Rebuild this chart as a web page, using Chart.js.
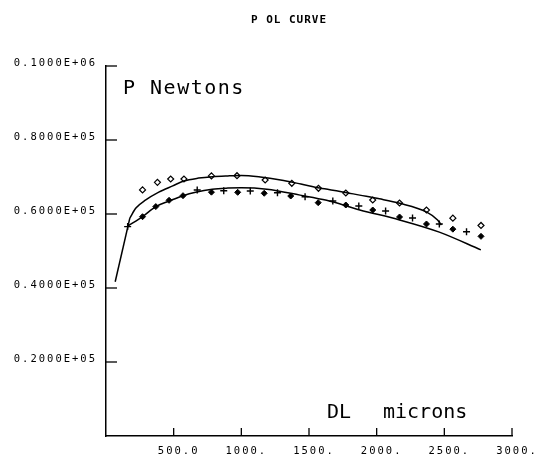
<!DOCTYPE html>
<html>
<head>
<meta charset="utf-8">
<script src="https://cdn.jsdelivr.net/npm/chart.js@4.4.1/dist/chart.umd.min.js"></script>
<style>
html,body{margin:0;padding:0;background:#fff;}
#wrap{width:551px;height:460px;}
</style>
</head>
<body>
<div id="wrap"><canvas id="plChart"></canvas></div>
<script>
// axis ticks
const xTicks = [500, 1000, 1500, 2000, 2500, 3000];
const yTicks = [20000, 40000, 60000, 80000, 100000];

// straight start, upper curve continues from its top
const stemX = [68, 176];
const stemY = [41700, 58900];

// upper fitted curve
const upperX = [176, 221, 294, 390, 493, 574, 684, 787, 900, 1000, 1140, 1290, 1440, 1580, 1730, 1875, 2020, 2170, 2370, 2450, 2478];
const upperY = [58900, 61600, 63800, 65900, 67600, 68900, 69700, 70100, 70300, 70400, 70000, 69200, 68100, 67000, 66100, 65100, 64100, 62900, 60500, 58400, 57000];

// lower fitted curve, branches off the stem
const lowerX = [162, 270, 368, 466, 569, 662, 785, 900, 1000, 1189, 1434, 1630, 1875, 2169, 2463, 2770];
const lowerY = [56750, 59300, 62000, 63500, 64950, 65900, 66700, 67000, 67100, 66700, 65100, 63700, 61100, 58400, 55100, 50300];

// measured points: open diamonds (upper)
const openX = [270, 380, 478, 576, 779, 968, 1176, 1373, 1570, 1772, 1971, 2169, 2368, 2563, 2771];
const openY = [66500, 68560, 69460, 69460, 70300, 70350, 69190, 68300, 66950, 65680, 63780, 62970, 61080, 58870, 56900];

// measured points: dark diamonds (lower)
const darkX = [270, 368, 466, 569, 779, 973, 1169, 1365, 1568, 1772, 1971, 2169, 2368, 2563, 2771];
const darkY = [59270, 62000, 63700, 64950, 65900, 65860, 65600, 64860, 63060, 62430, 61080, 59190, 57300, 55900, 53960];

// measured points: crosses
const plusX = [160, 674, 870, 1066, 1267, 1471, 1676, 1868, 2066, 2265, 2463, 2664];
const plusY = [56600, 66490, 66300, 66220, 65760, 64680, 63510, 62160, 60810, 58920, 57300, 55220];

const pts = (xs, ys) => xs.map((x, i) => ({x: x, y: ys[i]}));
const mono = "'DejaVu Sans Mono', 'Liberation Mono', monospace";

// fortran style labels
function fmtE(v) {
  if (v === 0) return '';
  const e = Math.floor(Math.log10(v)) + 1;
  const m = (v / Math.pow(10, e)).toFixed(4);
  return m + 'E+' + String(e).padStart(2, '0');
}
function fmtX(v) {
  if (v === 0) return '';
  return v < 1000 ? v.toFixed(1) : v + '.';
}

const plotterBits = {
  id: 'plotterBits',
  beforeDraw(chart) {
    chart.ctx.letterSpacing = '2px';
  },
  afterDraw(chart) {
    const ctx = chart.ctx;
    const xs = chart.scales.x, ys = chart.scales.y;
    const a = chart.chartArea;
    ctx.save();
    ctx.strokeStyle = '#000';
    ctx.lineWidth = 1.3;
    // inward tick marks
    xTicks.forEach(v => {
      const px = xs.getPixelForValue(v);
      ctx.beginPath(); ctx.moveTo(px, a.bottom); ctx.lineTo(px, a.bottom - 8); ctx.stroke();
    });
    yTicks.forEach(v => {
      const py = ys.getPixelForValue(v);
      ctx.beginPath(); ctx.moveTo(a.left, py); ctx.lineTo(a.left + 11, py); ctx.stroke();
    });
    ctx.fillStyle = '#000';
    ctx.textBaseline = 'middle';
    ctx.textAlign = 'center';
    ctx.letterSpacing = '1px';
    ctx.font = 'bold 11px ' + mono;
    ctx.fillText('P OL CURVE', 289, 20);
    ctx.textAlign = 'left';
    ctx.font = '20px ' + mono;
    ctx.letterSpacing = '1.5px';
    ctx.fillText('P Newtons', 123, 89);
    ctx.letterSpacing = '0px';
    ctx.fillText('DL', 327, 413);
    ctx.fillText('microns', 383, 413);
    ctx.restore();
  }
};

const lineStyle = {showLine: true, borderColor: '#000', borderWidth: 1.5, pointRadius: 0, cubicInterpolationMode: 'monotone'};

const ctx = document.getElementById('plChart');
const plChart = new Chart(ctx, {
  type: 'scatter',
  data: {
    datasets: [
      {data: pts(stemX, stemY), showLine: true, borderColor: '#000', borderWidth: 1.5, pointRadius: 0, tension: 0},
      Object.assign({data: pts(upperX, upperY)}, lineStyle),
      Object.assign({data: pts(lowerX, lowerY)}, lineStyle),
      {data: pts(openX, openY), pointStyle: 'rectRot', pointRadius: 3, backgroundColor: '#fff', borderColor: '#000', borderWidth: 1.2},
      {data: pts(darkX, darkY), pointStyle: 'rectRot', pointRadius: 3, backgroundColor: '#000', borderColor: '#000', borderWidth: 1},
      {data: pts(plusX, plusY), pointStyle: 'cross', pointRadius: 3.5, borderColor: '#000', borderWidth: 1.4}
    ]
  },
  options: {
    responsive: true,
    maintainAspectRatio: false,
    animation: false,
    layout: {padding: {left: 0, right: 39, top: 66, bottom: 0}},
    plugins: {legend: {display: false}, tooltip: {enabled: false}},
    scales: {
      x: {
        type: 'linear', min: 0, max: 3000,
        afterBuildTicks: s => { s.ticks = [0].concat(xTicks).map(v => ({value: v})); },
        afterFit: s => { s.height = 24; },
        grid: {display: false},
        border: {color: '#000', width: 1.5},
        ticks: {color: '#000', font: {family: mono, size: 10.5}, padding: 1, labelOffset: 5, maxRotation: 0, autoSkip: false, callback: v => fmtX(v)}
      },
      y: {
        type: 'linear', min: 0, max: 100000,
        afterBuildTicks: s => { s.ticks = [0].concat(yTicks).map(v => ({value: v})); },
        afterFit: s => { s.width = 106; },
        grid: {display: false},
        border: {color: '#000', width: 1.5},
        ticks: {color: '#000', font: {family: mono, size: 10.5}, padding: 1, labelOffset: -3, autoSkip: false, callback: v => fmtE(v)}
      }
    }
  },
  plugins: [plotterBits]
});
</script>
</body>
</html>
